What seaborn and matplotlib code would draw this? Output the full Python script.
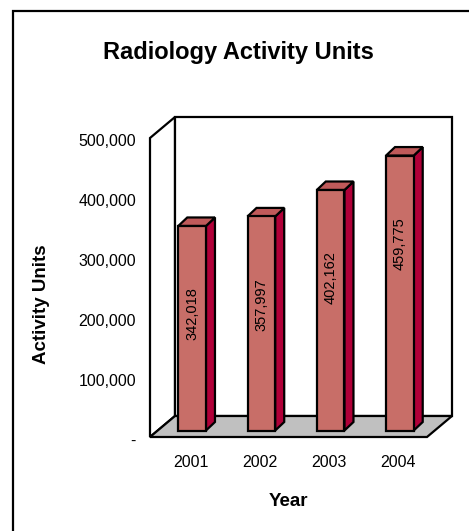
import matplotlib
matplotlib.use("Agg")
import matplotlib.pyplot as plt
import matplotlib.transforms as mtransforms
from matplotlib.patches import Polygon, Rectangle
import seaborn as sns
import pandas as pd

# data
years = ["2001", "2002", "2003", "2004"]
units = [342018, 357997, 402162, 459775]
ytick_vals = [0, 100000, 200000, 300000, 400000, 500000]
ytick_labels = ["-", "100,000", "200,000", "300,000", "400,000", "500,000"]

df = pd.DataFrame({"Year": years, "Units": units})

sns.set_style("white")
plt.rcParams["font.family"] = ["Liberation Sans", "DejaVu Sans"]
plt.rcParams["text.color"] = "black"
plt.rcParams["xtick.color"] = "black"
plt.rcParams["ytick.color"] = "black"

W, H = 469, 531
fig = plt.figure(figsize=(W / 100, H / 100), dpi=100)
# front plane of the 3d box: x 150..427 px, y 437..138 px (from top)
ax = fig.add_axes([150 / W, (H - 437) / H, 277 / W, 299 / H])
ax.set_xlim(-0.5, 3.5)
ax.set_ylim(0, 500000)

# pixel -> data unit helpers
px_x = 4 / 277
px_y = 500000 / 299
Dx, Dy = 25 * px_x, 21 * px_y        # box depth
bx, by = 7.5 * px_x, 6.5 * px_y      # bar front offset inside the box
sdx, sdy = 9 * px_x, 8.5 * px_y      # bar depth

edge = "black"
lw = 1.6
# left wall, back wall, floor
x0, x1, ytop = -0.5, 3.5, 500000
walls = [
    ([(x0, 0), (x0, ytop), (x0 + Dx, ytop + Dy), (x0 + Dx, Dy)], "white"),
    ([(x0 + Dx, Dy), (x1 + Dx, Dy), (x1 + Dx, ytop + Dy), (x0 + Dx, ytop + Dy)], "white"),
    ([(x0, 0), (x1, 0), (x1 + Dx, Dy), (x0 + Dx, Dy)], "#c0c0c0"),
]
for pts, fc in walls:
    ax.add_patch(Polygon(pts, closed=True, facecolor=fc, edgecolor=edge,
                         linewidth=lw, clip_on=False, zorder=1))

sns.barplot(data=df, x="Year", y="Units", width=0.4, color="#c86e68",
            saturation=1, edgecolor=edge, linewidth=lw, ax=ax, zorder=3)

for p, v in zip(ax.patches[3:], units):
    p.set_x(p.get_x() + bx)
    p.set_y(by)
    p.set_clip_on(False)
    x, w, h = p.get_x(), p.get_width(), p.get_height()
    side = [(x + w, by), (x + w + sdx, by + sdy), (x + w + sdx, by + h + sdy), (x + w, by + h)]
    top = [(x, by + h), (x + w, by + h), (x + w + sdx, by + h + sdy), (x + sdx, by + h + sdy)]
    ax.add_patch(Polygon(side, closed=True, facecolor="#b00038", edgecolor=edge,
                         linewidth=lw, clip_on=False, zorder=2.5))
    ax.add_patch(Polygon(top, closed=True, facecolor="#c05a5a", edgecolor=edge,
                         linewidth=lw, clip_on=False, zorder=2.5))
    ax.text(x + w / 2, by + h - 88 * px_y, f"{v:,}", rotation=90, ha="center",
            va="center", fontsize=10.5, color="black", zorder=5)

for s in ax.spines.values():
    s.set_visible(False)
ax.set_xlabel("")
ax.set_ylabel("")
ax.set_yticks(ytick_vals)
ax.set_yticklabels(ytick_labels)
ax.tick_params(axis="y", length=0, pad=10, labelsize=11.5, labelcolor="black")
ax.set_xticks(range(len(years)))
ax.set_xticklabels(years)
ax.tick_params(axis="x", length=0, pad=13, labelsize=11.5, labelcolor="black")
shift = mtransforms.ScaledTranslation(6 / 100, 0, fig.dpi_scale_trans)
for lab in ax.get_xticklabels():
    lab.set_transform(lab.get_transform() + shift)
shift_y = mtransforms.ScaledTranslation(0, -2.5 / 100, fig.dpi_scale_trans)
for lab in ax.get_yticklabels():
    lab.set_transform(lab.get_transform() + shift_y)

fig.text(238 / W, 1 - 52 / H, "Radiology Activity Units", ha="center", va="center",
         fontsize=17, fontweight="bold", color="black")
fig.text(42 / W, 1 - 304 / H, "Activity Units", ha="center", va="center",
         rotation=90, fontsize=13.5, fontweight="bold", color="black")
fig.text(288 / W, 1 - 502 / H, "Year", ha="center", va="center",
         fontsize=13.5, fontweight="bold", color="black")

# outer chart border (open at right and bottom in the crop)
fig.patches.append(Rectangle((13 / W, -0.05), 1.1, 1.05 - 11 / H, transform=fig.transFigure,
                             fill=False, edgecolor="black", linewidth=1.6, clip_on=False))

fig.savefig("out.png", dpi=100, facecolor="white")
